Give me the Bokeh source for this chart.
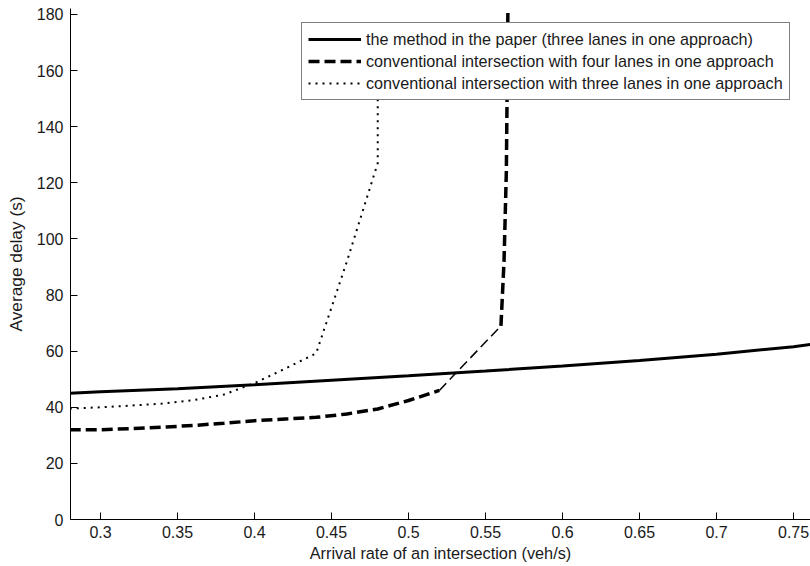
from bokeh.plotting import figure
from bokeh.models import Range1d, FixedTicker, NumeralTickFormatter, Legend, LegendItem
from bokeh.embed import file_html
from bokeh.resources import INLINE

# ---- data ----
x_ticks = [0.3, 0.35, 0.4, 0.45, 0.5, 0.55, 0.6, 0.65, 0.7, 0.75]
y_ticks = [0, 20, 40, 60, 80, 100, 120, 140, 160, 180]

method_x = [0.28, 0.30, 0.35, 0.40, 0.45, 0.50, 0.55, 0.60, 0.65, 0.70, 0.75, 0.77]
method_y = [45.0, 45.5, 46.6, 48.0, 49.6, 51.2, 52.9, 54.7, 56.7, 58.9, 61.6, 63.1]

four_x = [0.28, 0.30, 0.32, 0.34, 0.36, 0.38, 0.40, 0.42, 0.44, 0.46, 0.48, 0.50, 0.52, 0.56, 0.562, 0.5635, 0.5645]
four_y = [32.0, 32.0, 32.4, 32.9, 33.5, 34.3, 35.2, 35.8, 36.4, 37.6, 39.4, 42.4, 46.0, 69.0, 92.0, 124.0, 180.5]

three_x = [0.28, 0.30, 0.32, 0.34, 0.36, 0.38, 0.40, 0.42, 0.44, 0.46, 0.48, 0.48]
three_y = [39.5, 40.0, 40.6, 41.3, 42.5, 44.5, 48.6, 53.8, 59.2, 92.0, 127.0, 178.5]

labels = [
    "the method in the paper (three lanes in one approach)",
    "conventional intersection with four lanes in one approach",
    "conventional intersection with three lanes in one approach",
]

FONT = "Liberation Sans"

p = figure(width=810, height=566, output_backend="svg", toolbar_location=None,
           x_range=Range1d(0.2805, 0.761), y_range=Range1d(0, 182.1),
           min_border_left=70, min_border_right=0, min_border_top=8, min_border_bottom=47)
p.outline_line_color = None
p.grid.visible = False
p.background_fill_color = "white"
p.border_fill_color = "white"

r1 = p.line(method_x, method_y, line_color="black", line_width=3)

# four-lane curve: thick dashes, with the thin diagonal piece between 0.52 and 0.56
i0 = four_x.index(0.52)
i1 = four_x.index(0.56)
r2 = p.line(four_x[:i0 + 1], four_y[:i0 + 1], line_color="black", line_width=3.5, line_dash="11 5")
p.line(four_x[i0:i1 + 1], four_y[i0:i1 + 1], line_color="black", line_width=1.5, line_dash="10 5")
p.line(four_x[i1:], four_y[i1:], line_color="black", line_width=3.5, line_dash="11 5")

r3 = p.line(three_x, three_y, line_color="black", line_width=2, line_dash="2 5")

# axes
for ax in (p.xaxis[0], p.yaxis[0]):
    ax.axis_line_color = "black"
    ax.axis_line_width = 1
    ax.major_tick_line_color = "black"
    ax.major_tick_in = 7
    ax.major_tick_out = 0
    ax.minor_tick_line_color = None
    ax.major_label_text_font = FONT
    ax.major_label_text_font_size = "16px"
    ax.major_label_text_color = "#1a1a1a"
    ax.axis_label_text_font = FONT
    ax.axis_label_text_font_style = "normal"
    ax.axis_label_text_color = "#1a1a1a"

p.xaxis.axis_label_text_font_size = "16.3px"
p.yaxis.axis_label_text_font_size = "17.3px"
p.xaxis.ticker = FixedTicker(ticks=x_ticks)
p.xaxis.formatter = NumeralTickFormatter(format="0.[00]")
p.yaxis.ticker = FixedTicker(ticks=y_ticks)
p.xaxis.axis_label = "Arrival rate of an intersection (veh/s)"
p.yaxis.axis_label = "Average delay (s)"
p.xaxis.major_label_standoff = 6
p.xaxis.axis_label_standoff = 3
p.yaxis.major_label_standoff = 7
p.yaxis.axis_label_standoff = 8

legend = Legend(items=[LegendItem(label=labels[0], renderers=[r1]),
                       LegendItem(label=labels[1], renderers=[r2]),
                       LegendItem(label=labels[2], renderers=[r3])],
                location=(231, 419), margin=0, padding=6, spacing=2,
                glyph_width=53, glyph_height=20, label_height=20, label_standoff=5,
                label_text_font=FONT, label_text_font_size="16.2px", label_text_color="#1a1a1a",
                border_line_color="black", border_line_width=1,
                background_fill_color="white", background_fill_alpha=1.0)
p.add_layout(legend, "center")

open("out.html", "w").write(file_html(p, INLINE))
